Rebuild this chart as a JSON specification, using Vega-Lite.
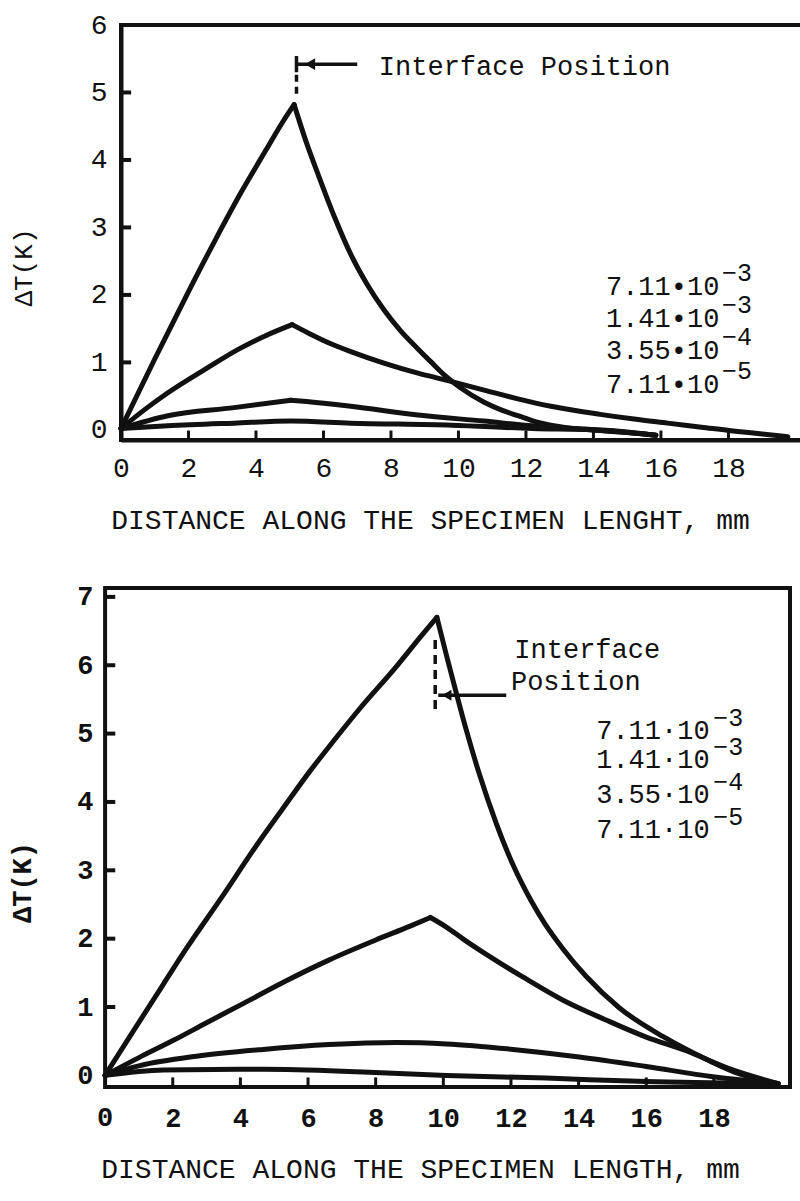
{
  "$schema": "https://vega.github.io/schema/vega-lite/v6.json",
  "background": "white",
  "padding": {"left": 8, "top": 9, "right": 0, "bottom": 12},
  "spacing": 46,
  "config": {
    "font": "Liberation Mono",
    "view": {"stroke": "#111", "strokeWidth": 4},
    "axis": {
      "grid": false, "domainColor": "#111", "domainWidth": 4, "ticks": false,
      "labelColor": "#111", "titleColor": "#111", "labelFlush": false, "format": "d",
      "labelFont": "Liberation Mono", "titleFont": "Liberation Mono", "titleFontWeight": "normal"
    }
  },
  "datasets": {
    "topCurves": [
      {"s": "a1", "x": 0, "y": 0.02}, {"s": "a1", "x": 1, "y": 1.05}, {"s": "a1", "x": 2, "y": 2.05}, {"s": "a1", "x": 2.8, "y": 2.82}, {"s": "a1", "x": 3.56, "y": 3.52}, {"s": "a1", "x": 4.3, "y": 4.15}, {"s": "a1", "x": 4.8, "y": 4.57}, {"s": "a1", "x": 5.13, "y": 4.82},
      {"s": "a2", "x": 5.13, "y": 4.82}, {"s": "a2", "x": 5.5, "y": 4.25}, {"s": "a2", "x": 5.83, "y": 3.8}, {"s": "a2", "x": 6.33, "y": 3.15}, {"s": "a2", "x": 6.81, "y": 2.6}, {"s": "a2", "x": 7.3, "y": 2.15}, {"s": "a2", "x": 7.79, "y": 1.78}, {"s": "a2", "x": 8.3, "y": 1.46}, {"s": "a2", "x": 8.8, "y": 1.2}, {"s": "a2", "x": 9.2, "y": 1.0}, {"s": "a2", "x": 9.57, "y": 0.82}, {"s": "a2", "x": 10.07, "y": 0.62}, {"s": "a2", "x": 10.76, "y": 0.41}, {"s": "a2", "x": 11.3, "y": 0.29}, {"s": "a2", "x": 11.76, "y": 0.21}, {"s": "a2", "x": 12.36, "y": 0.11}, {"s": "a2", "x": 13.24, "y": 0.03}, {"s": "a2", "x": 14.2, "y": -0.01}, {"s": "a2", "x": 15.0, "y": -0.04}, {"s": "a2", "x": 15.85, "y": -0.08},
      {"s": "b1", "x": 0, "y": 0.02}, {"s": "b1", "x": 0.7, "y": 0.3}, {"s": "b1", "x": 1.39, "y": 0.55}, {"s": "b1", "x": 2.5, "y": 0.9}, {"s": "b1", "x": 3.5, "y": 1.2}, {"s": "b1", "x": 4.3, "y": 1.4}, {"s": "b1", "x": 5.07, "y": 1.56},
      {"s": "b2", "x": 5.07, "y": 1.56}, {"s": "b2", "x": 5.53, "y": 1.44}, {"s": "b2", "x": 6.2, "y": 1.28}, {"s": "b2", "x": 6.81, "y": 1.16}, {"s": "b2", "x": 7.79, "y": 0.99}, {"s": "b2", "x": 8.8, "y": 0.84}, {"s": "b2", "x": 9.69, "y": 0.73}, {"s": "b2", "x": 10.76, "y": 0.59}, {"s": "b2", "x": 11.76, "y": 0.46}, {"s": "b2", "x": 12.74, "y": 0.35}, {"s": "b2", "x": 14.2, "y": 0.23}, {"s": "b2", "x": 15.2, "y": 0.16}, {"s": "b2", "x": 16.2, "y": 0.1}, {"s": "b2", "x": 17.2, "y": 0.04}, {"s": "b2", "x": 18.2, "y": -0.02}, {"s": "b2", "x": 19.0, "y": -0.06}, {"s": "b2", "x": 19.76, "y": -0.1},
      {"s": "c1", "x": 0, "y": 0.02}, {"s": "c1", "x": 1.39, "y": 0.21}, {"s": "c1", "x": 3.35, "y": 0.33}, {"s": "c1", "x": 5.04, "y": 0.44},
      {"s": "c2", "x": 5.04, "y": 0.44}, {"s": "c2", "x": 5.5, "y": 0.42}, {"s": "c2", "x": 6.81, "y": 0.35}, {"s": "c2", "x": 8.8, "y": 0.22}, {"s": "c2", "x": 10.76, "y": 0.13}, {"s": "c2", "x": 12.2, "y": 0.06}, {"s": "c2", "x": 13.5, "y": 0.02}, {"s": "c2", "x": 14.5, "y": -0.01}, {"s": "c2", "x": 15.85, "y": -0.08},
      {"s": "d", "x": 0, "y": 0.02}, {"s": "d", "x": 1.39, "y": 0.06}, {"s": "d", "x": 3.35, "y": 0.1}, {"s": "d", "x": 5.04, "y": 0.13}, {"s": "d", "x": 6.81, "y": 0.1}, {"s": "d", "x": 9.8, "y": 0.07}, {"s": "d", "x": 12.2, "y": 0.02}, {"s": "d", "x": 14.0, "y": 0.0}, {"s": "d", "x": 15.85, "y": -0.08}
    ],
    "bottomCurves": [
      {"s": "a1", "x": 0, "y": 0}, {"s": "a1", "x": 0.72, "y": 0.56}, {"s": "a1", "x": 1.73, "y": 1.34}, {"s": "a1", "x": 2.41, "y": 1.86}, {"s": "a1", "x": 3.44, "y": 2.6}, {"s": "a1", "x": 4.47, "y": 3.36}, {"s": "a1", "x": 5.25, "y": 3.9}, {"s": "a1", "x": 6.04, "y": 4.44}, {"s": "a1", "x": 6.8, "y": 4.92}, {"s": "a1", "x": 7.52, "y": 5.36}, {"s": "a1", "x": 8.61, "y": 5.98}, {"s": "a1", "x": 9.3, "y": 6.4}, {"s": "a1", "x": 9.81, "y": 6.7},
      {"s": "a2", "x": 9.81, "y": 6.7}, {"s": "a2", "x": 10.09, "y": 6.15}, {"s": "a2", "x": 10.38, "y": 5.6}, {"s": "a2", "x": 10.68, "y": 5.05}, {"s": "a2", "x": 11.07, "y": 4.4}, {"s": "a2", "x": 11.57, "y": 3.68}, {"s": "a2", "x": 12.06, "y": 3.08}, {"s": "a2", "x": 12.6, "y": 2.55}, {"s": "a2", "x": 13.0, "y": 2.22}, {"s": "a2", "x": 13.54, "y": 1.85}, {"s": "a2", "x": 14.22, "y": 1.45}, {"s": "a2", "x": 15.2, "y": 0.99}, {"s": "a2", "x": 16.49, "y": 0.57}, {"s": "a2", "x": 17.47, "y": 0.31}, {"s": "a2", "x": 18.65, "y": 0.04}, {"s": "a2", "x": 19.9, "y": -0.12},
      {"s": "b1", "x": 0, "y": 0}, {"s": "b1", "x": 1.0, "y": 0.26}, {"s": "b1", "x": 2.05, "y": 0.52}, {"s": "b1", "x": 3.0, "y": 0.77}, {"s": "b1", "x": 4.08, "y": 1.05}, {"s": "b1", "x": 5.3, "y": 1.37}, {"s": "b1", "x": 6.63, "y": 1.69}, {"s": "b1", "x": 8.0, "y": 1.98}, {"s": "b1", "x": 9.0, "y": 2.18}, {"s": "b1", "x": 9.62, "y": 2.31},
      {"s": "b2", "x": 9.62, "y": 2.31}, {"s": "b2", "x": 10.09, "y": 2.17}, {"s": "b2", "x": 10.6, "y": 1.99}, {"s": "b2", "x": 11.27, "y": 1.77}, {"s": "b2", "x": 12.35, "y": 1.44}, {"s": "b2", "x": 13.54, "y": 1.1}, {"s": "b2", "x": 14.81, "y": 0.81}, {"s": "b2", "x": 16.0, "y": 0.56}, {"s": "b2", "x": 17.18, "y": 0.36}, {"s": "b2", "x": 18.45, "y": 0.1}, {"s": "b2", "x": 19.9, "y": -0.12},
      {"s": "c", "x": 0, "y": 0}, {"s": "c", "x": 1.0, "y": 0.14}, {"s": "c", "x": 2.7, "y": 0.28}, {"s": "c", "x": 4.67, "y": 0.38}, {"s": "c", "x": 6.63, "y": 0.45}, {"s": "c", "x": 8.6, "y": 0.48}, {"s": "c", "x": 10.09, "y": 0.46}, {"s": "c", "x": 12.06, "y": 0.38}, {"s": "c", "x": 14.02, "y": 0.27}, {"s": "c", "x": 16.0, "y": 0.13}, {"s": "c", "x": 17.97, "y": -0.02}, {"s": "c", "x": 19.9, "y": -0.12},
      {"s": "d", "x": 0, "y": 0}, {"s": "d", "x": 1.72, "y": 0.08}, {"s": "d", "x": 4.67, "y": 0.09}, {"s": "d", "x": 7.63, "y": 0.05}, {"s": "d", "x": 10.09, "y": 0.0}, {"s": "d", "x": 13.04, "y": -0.04}, {"s": "d", "x": 16.0, "y": -0.09}, {"s": "d", "x": 19.9, "y": -0.12}
    ]
  },
  "vconcat": [
    {
      "width": 681,
      "height": 415,
      "layer": [
        {
          "data": {"name": "topCurves"},
          "mark": {"type": "line", "interpolate": "monotone", "stroke": "#111", "strokeWidth": 5, "strokeCap": "round", "strokeJoin": "round"},
          "encoding": {
            "x": {"field": "x", "type": "quantitative", "scale": {"domain": [0, 20.18], "nice": false, "zero": false},
              "axis": {"values": [0, 2, 4, 6, 8, 10, 12, 14, 16, 18], "title": "DISTANCE ALONG THE SPECIMEN LENGHT, mm", "labelFontSize": 28, "titleFontSize": 28, "labelPadding": 14, "titlePadding": 24, "titleX": 309}},
            "y": {"field": "y", "type": "quantitative", "scale": {"domain": [-0.15, 6], "nice": false, "zero": false},
              "axis": {"values": [0, 1, 2, 3, 4, 5, 6], "title": "ΔT(K)", "labelFontSize": 28, "titleFontSize": 26, "labelPadding": 14, "titlePadding": 54, "titleY": 242}},
            "detail": {"field": "s"}
          }
        },
        {
          "data": {"values": [{"v": 1}, {"v": 2}, {"v": 3}, {"v": 4}, {"v": 5}]},
          "mark": {"type": "rule", "stroke": "#111", "strokeWidth": 4},
          "encoding": {"x": {"datum": 0, "type": "quantitative"}, "x2": {"datum": 0.3}, "y": {"field": "v", "type": "quantitative"}}
        },
        {
          "data": {"values": [{"v": 2}, {"v": 4}, {"v": 6}, {"v": 8}, {"v": 10}, {"v": 12}, {"v": 14}, {"v": 16}, {"v": 18}]},
          "mark": {"type": "rule", "stroke": "#111", "strokeWidth": 3},
          "encoding": {"x": {"field": "v", "type": "quantitative"}, "y": {"datum": -0.15, "type": "quantitative"}, "y2": {"datum": -0.01}}
        },
        {
          "data": {"values": [{"x": 5.2, "y": 4.98, "y2": 5.32}]},
          "mark": {"type": "rule", "stroke": "#111", "strokeWidth": 3.5, "strokeDash": [7, 5]},
          "encoding": {"x": {"field": "x", "type": "quantitative"}, "y": {"field": "y", "type": "quantitative"}, "y2": {"field": "y2"}}
        },
        {
          "data": {"values": [{"x": 5.2, "y": 5.3, "y2": 5.54}]},
          "mark": {"type": "rule", "stroke": "#111", "strokeWidth": 3.5},
          "encoding": {"x": {"field": "x", "type": "quantitative"}, "y": {"field": "y", "type": "quantitative"}, "y2": {"field": "y2"}}
        },
        {
          "data": {"values": [{"x": 5.2, "x2": 7.0, "y": 5.42}]},
          "mark": {"type": "rule", "stroke": "#111", "strokeWidth": 3.5},
          "encoding": {"x": {"field": "x", "type": "quantitative"}, "x2": {"field": "x2"}, "y": {"field": "y", "type": "quantitative"}}
        },
        {
          "data": {"values": [{"x": 5.6, "y": 5.42}]},
          "mark": {"type": "point", "shape": "triangle-left", "filled": true, "color": "#111", "size": 140, "opacity": 1},
          "encoding": {"x": {"field": "x", "type": "quantitative"}, "y": {"field": "y", "type": "quantitative"}}
        },
        {
          "data": {"values": [
            {"x": 7.64, "y": 5.38, "t": "Interface Position", "sup": ""},
            {"x": 14.37, "y": 2.12, "t": "7.11•10", "sup": "−3"},
            {"x": 14.37, "y": 1.64, "t": "1.41•10", "sup": "−3"},
            {"x": 14.37, "y": 1.17, "t": "3.55•10", "sup": "−4"},
            {"x": 14.37, "y": 0.67, "t": "7.11•10", "sup": "−5"}
          ]},
          "layer": [
            {"mark": {"type": "text", "align": "left", "baseline": "middle", "fontSize": 27, "color": "#111"},
             "encoding": {"x": {"field": "x", "type": "quantitative"}, "y": {"field": "y", "type": "quantitative"}, "text": {"field": "t"}}},
            {"mark": {"type": "text", "align": "left", "baseline": "middle", "fontSize": 25, "color": "#111", "dx": 116, "dy": -14},
             "encoding": {"x": {"field": "x", "type": "quantitative"}, "y": {"field": "y", "type": "quantitative"}, "text": {"field": "sup"}}}
          ]
        }
      ]
    },
    {
      "width": 669,
      "height": 499,
      "view": {"stroke": null},
      "layer": [
        {
          "data": {"name": "bottomCurves"},
          "mark": {"type": "line", "interpolate": "monotone", "stroke": "#111", "strokeWidth": 5, "strokeCap": "round", "strokeJoin": "round"},
          "encoding": {
            "x": {"field": "x", "type": "quantitative", "scale": {"domain": [0.47, 20.25], "nice": false, "zero": false},
              "axis": {"values": [2, 4, 6, 8, 10, 12, 14, 16, 18], "domain": false, "title": "DISTANCE ALONG THE SPECIMEN LENGTH, mm", "labelFontSize": 27, "labelFontWeight": "bold", "titleFontSize": 28, "labelPadding": 18, "titlePadding": 24, "titleX": 299}},
            "y": {"field": "y", "type": "quantitative", "scale": {"domain": [-0.17, 7.13], "nice": false, "zero": false},
              "axis": {"values": [0, 1, 2, 3, 4, 5, 6, 7], "domain": false, "offset": 16, "title": "ΔT(K)", "labelFontSize": 27, "labelFontWeight": "bold", "titleFontSize": 27, "titleFontWeight": "bold", "labelPadding": 12, "titlePadding": 40, "titleY": 294}},
            "detail": {"field": "s"}
          }
        },
        {
          "data": {"values": [{"v": 1}]},
          "mark": {"type": "rect", "fillOpacity": 0, "stroke": "#111", "strokeWidth": 4},
          "encoding": {"x": {"datum": 0, "type": "quantitative"}, "x2": {"datum": 20.25}, "y": {"datum": -0.17, "type": "quantitative"}, "y2": {"datum": 7.13}}
        },
        {
          "data": {"values": [{"v": 0, "t": "0"}]},
          "mark": {"type": "text", "align": "center", "baseline": "top", "fontSize": 27, "fontWeight": "bold", "color": "#111", "dy": 18},
          "encoding": {"x": {"field": "v", "type": "quantitative"}, "y": {"datum": -0.17, "type": "quantitative"}, "text": {"field": "t"}}
        },
        {
          "data": {"values": [{"v": 1}, {"v": 2}, {"v": 3}, {"v": 4}, {"v": 5}, {"v": 6}, {"v": 7}]},
          "mark": {"type": "rule", "stroke": "#111", "strokeWidth": 4},
          "encoding": {"x": {"datum": 0, "type": "quantitative"}, "x2": {"datum": 0.3}, "y": {"field": "v", "type": "quantitative"}}
        },
        {
          "data": {"values": [{"v": 2}, {"v": 4}, {"v": 6}, {"v": 8}, {"v": 10}, {"v": 12}, {"v": 14}, {"v": 16}, {"v": 18}]},
          "mark": {"type": "rule", "stroke": "#111", "strokeWidth": 3},
          "encoding": {"x": {"field": "v", "type": "quantitative"}, "y": {"datum": -0.17, "type": "quantitative"}, "y2": {"datum": -0.03}}
        },
        {
          "data": {"values": [{"x": 9.76, "y": 5.36, "y2": 6.42}]},
          "mark": {"type": "rule", "stroke": "#111", "strokeWidth": 3.5, "strokeDash": [9, 6]},
          "encoding": {"x": {"field": "x", "type": "quantitative"}, "y": {"field": "y", "type": "quantitative"}, "y2": {"field": "y2"}}
        },
        {
          "data": {"values": [{"x": 9.85, "x2": 11.86, "y": 5.56}]},
          "mark": {"type": "rule", "stroke": "#111", "strokeWidth": 3.5},
          "encoding": {"x": {"field": "x", "type": "quantitative"}, "x2": {"field": "x2"}, "y": {"field": "y", "type": "quantitative"}}
        },
        {
          "data": {"values": [{"x": 10.1, "y": 5.56}]},
          "mark": {"type": "point", "shape": "triangle-left", "filled": true, "color": "#111", "size": 120, "opacity": 1},
          "encoding": {"x": {"field": "x", "type": "quantitative"}, "y": {"field": "y", "type": "quantitative"}}
        },
        {
          "data": {"values": [
            {"x": 12.1, "y": 6.23, "t": "Interface", "sup": ""},
            {"x": 12.0, "y": 5.76, "t": "Position", "sup": ""},
            {"x": 14.52, "y": 5.04, "t": "7.11·10", "sup": "−3"},
            {"x": 14.52, "y": 4.61, "t": "1.41·10", "sup": "−3"},
            {"x": 14.52, "y": 4.1, "t": "3.55·10", "sup": "−4"},
            {"x": 14.52, "y": 3.59, "t": "7.11·10", "sup": "−5"}
          ]},
          "layer": [
            {"mark": {"type": "text", "align": "left", "baseline": "middle", "fontSize": 27, "color": "#111"},
             "encoding": {"x": {"field": "x", "type": "quantitative"}, "y": {"field": "y", "type": "quantitative"}, "text": {"field": "t"}}},
            {"mark": {"type": "text", "align": "left", "baseline": "middle", "fontSize": 25, "color": "#111", "dx": 117, "dy": -13},
             "encoding": {"x": {"field": "x", "type": "quantitative"}, "y": {"field": "y", "type": "quantitative"}, "text": {"field": "sup"}}}
          ]
        }
      ]
    }
  ]
}
